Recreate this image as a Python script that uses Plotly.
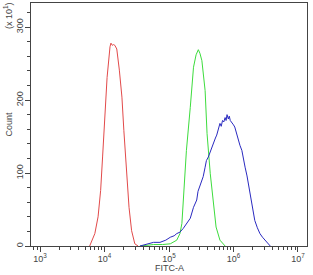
import plotly.graph_objects as go

# log10(FITC-A) positions and counts (x10^1)
red_log = [3.77, 3.85, 3.90, 3.94, 3.97, 4.01, 4.04, 4.085, 4.10, 4.12, 4.14, 4.16, 4.19, 4.23, 4.27, 4.30, 4.34, 4.38, 4.42, 4.47, 4.52]
red_cnt = [0, 17, 40, 76, 122, 181, 231, 273, 278, 275, 276, 275, 270, 241, 204, 158, 104, 53, 21, 3, 0]

green_log = [4.55, 4.76, 4.90, 5.02, 5.12, 5.17, 5.20, 5.23, 5.27, 5.33, 5.38, 5.42, 5.455, 5.48, 5.51, 5.56, 5.59, 5.64, 5.68, 5.73, 5.79, 5.87]
green_cnt = [0, 2, 2, 3, 8, 17, 31, 76, 131, 190, 245, 262, 269, 264, 254, 213, 154, 99, 63, 26, 8, 0]

blue_log = [4.55, 4.65, 4.76, 4.86, 4.95, 5.02, 5.08, 5.12, 5.17, 5.22, 5.27, 5.33, 5.38, 5.43, 5.45, 5.49, 5.53, 5.56, 5.58, 5.61, 5.63, 5.66,
            5.69, 5.72, 5.74, 5.77, 5.79, 5.81, 5.83, 5.85, 5.87, 5.885, 5.90, 5.92, 5.935, 5.95, 5.97, 6.00, 6.02, 6.05, 6.07,
            6.10, 6.13, 6.15, 6.18, 6.21, 6.23, 6.26, 6.28, 6.31, 6.33, 6.37, 6.41, 6.45, 6.49, 6.53, 6.57]
blue_cnt = [0, 2, 5, 5, 8, 12, 14, 17, 19, 24, 31, 38, 53, 63, 75, 85, 95, 108, 117, 122, 127, 136,
            142, 148, 152, 160, 168, 164, 172, 170, 176, 172, 180, 174, 178, 172, 170, 166, 163, 152, 145,
            138, 131, 120, 108, 96, 85, 70, 58, 45, 35, 25, 17, 12, 8, 3, 0]

x_major = [1e3, 1e4, 1e5, 1e6, 1e7]
x_major_text = ["10<sup>3</sup>", "10<sup>4</sup>", "10<sup>5</sup>", "10<sup>6</sup>", "10<sup>7</sup>"]
x_minor = [m * 10 ** e for e in range(2, 7) for m in range(2, 10)]

fig = go.Figure()
for lg, cnt, col in [(red_log, red_cnt, "#e24a4a"), (green_log, green_cnt, "#3ddc3d"), (blue_log, blue_cnt, "#2a2ac0")]:
    fig.add_trace(go.Scatter(x=[10 ** v for v in lg], y=cnt, mode="lines",
                             line=dict(color=col, width=1), showlegend=False, hoverinfo="skip"))

font = dict(family="Liberation Sans, Arial, sans-serif", size=9, color="#444")
fig.update_layout(
    width=313, height=275,
    margin=dict(l=31, r=6, t=3, b=29),
    paper_bgcolor="white", plot_bgcolor="white",
    font=font,
    xaxis=dict(type="log", range=[2.86, 7.14], tickvals=x_major, ticktext=x_major_text, ticklabelstandoff=-1,
               ticks="outside", ticklen=5, tickcolor="#444", showgrid=False, zeroline=False,
               showline=True, linecolor="#444", linewidth=1, mirror=True,
               minor=dict(tickvals=x_minor, ticks="outside", ticklen=3, tickcolor="#444", showgrid=False),
               tickfont=font),
    yaxis=dict(range=[0, 333], tickvals=[0, 100, 200, 300], tickangle=-90, ticklabelstandoff=-2,
               ticks="outside", ticklen=5, tickcolor="#444", showgrid=False, zeroline=False,
               showline=True, linecolor="#444", linewidth=1, mirror=True,
               minor=dict(dtick=20, ticks="outside", ticklen=3, tickcolor="#444", showgrid=False),
               tickfont=font),
    annotations=[
        dict(text="FITC-A", xref="paper", yref="paper", x=0.5, y=-0.121, xanchor="center", yanchor="bottom",
             showarrow=False, font=font),
        dict(text="Count", xref="paper", yref="paper", x=-23 / 276, y=0.5, xanchor="center", yanchor="middle",
             textangle=-90, showarrow=False, font=font),
        dict(text="(x 10<sup>1</sup>)", xref="paper", yref="paper", x=-23 / 276, y=1.01, xanchor="center", yanchor="top",
             textangle=-90, showarrow=False, font=font),
    ],
)
fig.write_html("out.html")
